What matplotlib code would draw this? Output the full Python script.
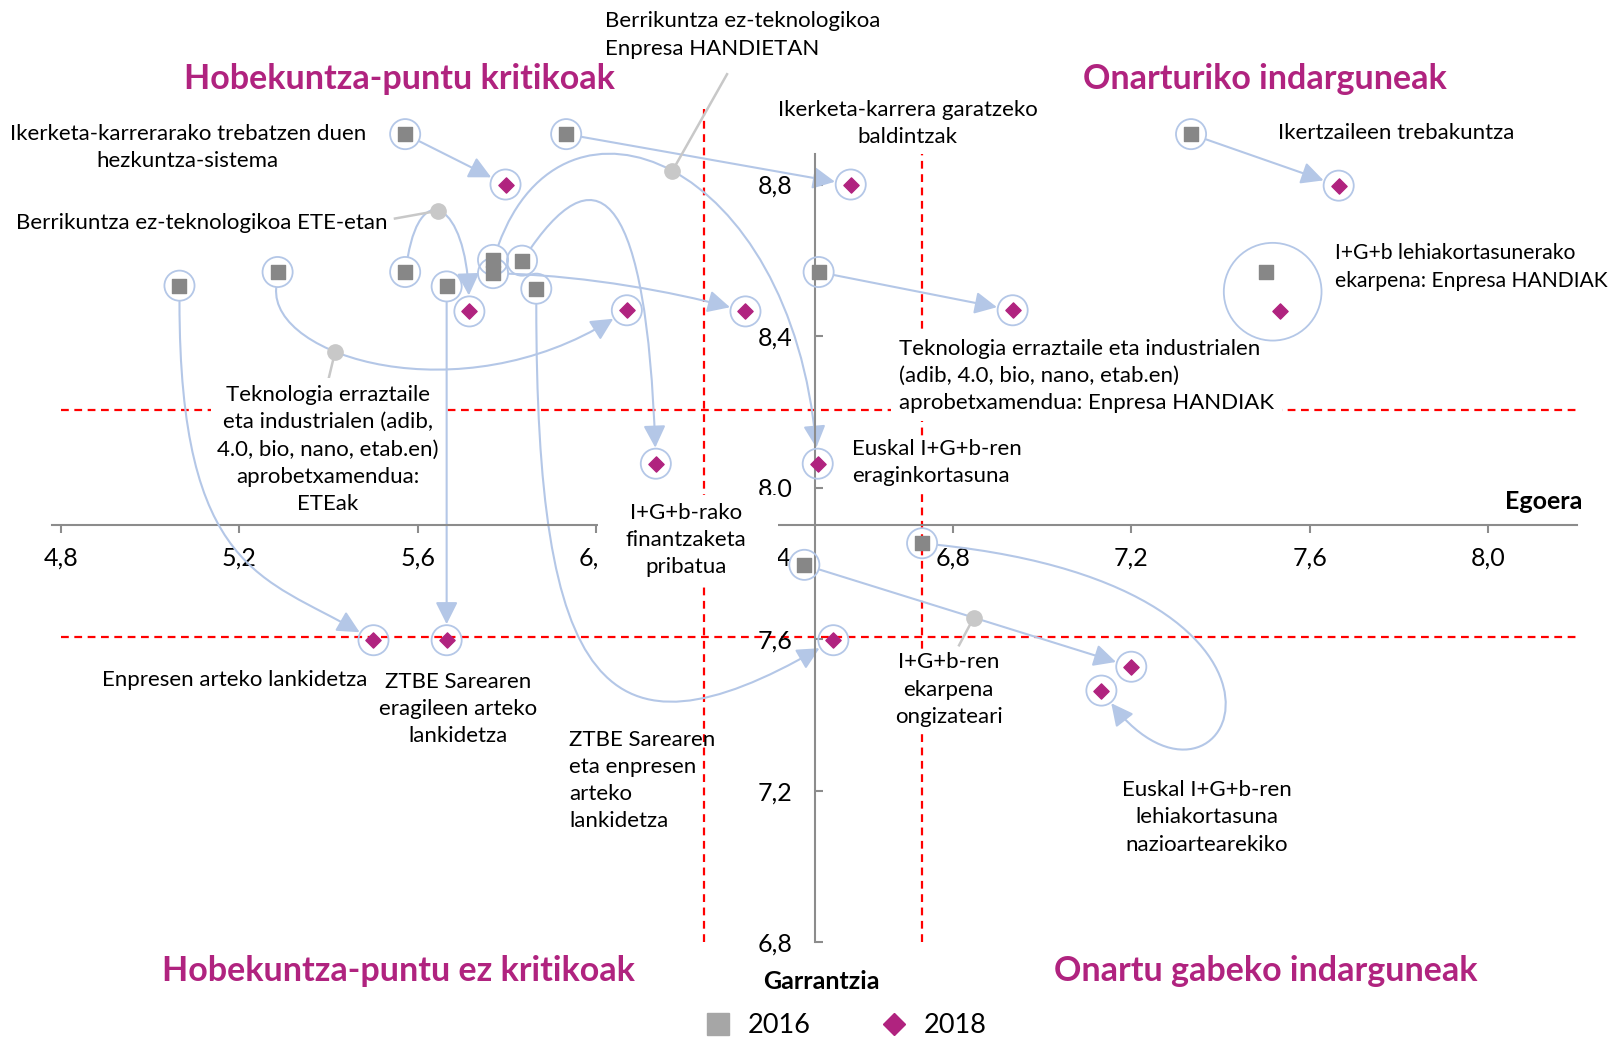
import numpy as np
import matplotlib.pyplot as plt
from matplotlib.path import Path
from matplotlib.patches import FancyArrowPatch, Rectangle
from matplotlib.transforms import IdentityTransform
from matplotlib.lines import Line2D

plt.rcParams['font.family'] = ['Lato', 'DejaVu Sans']

# --- data -------------------------------------------------------------
names = [
    'Ikerketa-karrerarako trebatzen duen\nhezkuntza-sistema',
    'Ikerketa-karrera garatzeko\nbaldintzak',
    'Ikertzaileen trebakuntza',
    'Enpresen arteko lankidetza',
    'Teknologia erraztaile\neta industrialen (adib,\n4.0, bio, nano, etab.en)\naprobetxamendua:\nETEak',
    'Berrikuntza ez-teknologikoa ETE-etan',
    'ZTBE Sarearen\neragileen arteko\nlankidetza',
    'Berrikuntza ez-teknologikoa\nEnpresa HANDIETAN',
    'Euskal I+G+b-ren\neraginkortasuna',
    'I+G+b-rako\nfinantzaketa\npribatua',
    'ZTBE Sarearen\neta enpresen\narteko\nlankidetza',
    'Teknologia erraztaile eta industrialen\n(adib, 4.0, bio, nano, etab.en)\naprobetxamendua: Enpresa HANDIAK',
    'I+G+b lehiakortasunerako\nekarpena: Enpresa HANDIAK',
    'I+G+b-ren\nekarpena\nongizateari',
    'Euskal I+G+b-ren\nlehiakortasuna\nnazioartearekiko',
]
x2016 = [5.572, 5.933, 7.334, 5.066, 5.286, 5.572, 5.665, 5.769, 5.769, 5.834, 5.866, 6.499, 7.501, 6.467, 6.731]
y2016 = [8.933, 8.933, 8.933, 8.533, 8.569, 8.569, 8.531, 8.601, 8.566, 8.599, 8.525, 8.569, 8.569, 7.796, 7.853]
x2018 = [5.797, 6.571, 7.665, 5.501, 6.069, 5.716, 5.665, 6.497, 6.335, 6.134, 6.532, 6.934, 7.533, 7.200, 7.133]
y2018 = [8.800, 8.800, 8.797, 7.597, 8.468, 8.465, 7.597, 8.063, 8.465, 8.063, 7.597, 8.468, 8.465, 7.527, 7.464]

xticks = [4.8, 5.2, 5.6, 6.0, 6.4, 6.8, 7.2, 7.6, 8.0]
xtick_labels = ['4,8', '5,2', '5,6', '6,0', '6,4', '6,8', '7,2', '7,6', '8,0']
yticks = [6.8, 7.2, 7.6, 8.0, 8.4, 8.8]
ytick_labels = ['6,8', '7,2', '7,6', '8.0', '8,4', '8,8']
x_cross, y_cross = 6.49, 7.9
x_cuts = [6.243, 6.731]
y_cuts = [8.204, 7.605]

quadrants = ['Hobekuntza-puntu kritikoak', 'Onarturiko indarguneak',
             'Hobekuntza-puntu ez kritikoak', 'Onartu gabeko indarguneak']

# --- layout / style ----------------------------------------------------
W, H = 1568, 1007          # layout grid (reference pixels)
magenta = '#b0237f'
sq_c = '#878787'
ring_c = '#b4c7e7'
dot_c = '#c8c8c8'
R = 16                     # ring radius in px

# routing of each connector: None = nothing, 'line' = straight,
# else (start angle, start arm, end angle, end arm) in px
routes = ['line', 'line', 'line',
          (-90, 270, -30, 110),
          (-95, 70, 32, 180),
          (80, 80, -88, 90),
          'line',
          (70, 190, -85, 290),
          (-2, 80, -15, 60),
          (55, 120, -88, 250),
          (-90, 380, 30, 250),
          'line',
          None,
          'line',
          (-6, 420, 128, 190)]
front = {3}                # connectors drawn above the label boxes

# label positions (px on layout grid) and alignment
label_pos = [(182, 143, 'center'), (880, 120, 'center'), (1239, 129, 'left'),
             (228, 660, 'center'), (318, 436, 'center'), (196, 216, 'center'),
             (444, 688, 'center'), (587, 34, 'left'), (826, 449, 'left'),
             (665, 524, 'center'), (552, 757, 'left'), (872, 365, 'left'),
             (1295, 259, 'left'), (920, 669, 'center'), (1170, 793, 'center')]
box_pad = {4: 0.3, 11: 0.35, 10: None, 9: None}
label_size = {12: 15.2}

# gray leader dots: connector index, bezier t, leader end (px)
leaders = [(7, 0.5, (705, 72)), (5, 0.45, (383, 212)),
           (4, 0.36, (319, 366)), (13, 0.52, (930, 626))]

fig = plt.figure(figsize=(16.17, 10.38), dpi=100)
ax = fig.add_axes([0, 0, 1, 1])
ax.set_xlim(4.6636, 8.2890)
ax.set_ylim(6.5469, 9.2871)


def frac(px, py):
    return px / W, 1 - py / H


def disp(px, py):
    return ax.transAxes.transform(frac(px, py))


# axes crossing in the middle
for s in ['top', 'right']:
    ax.spines[s].set_visible(False)
ax.spines['left'].set_position(('data', x_cross))
ax.spines['bottom'].set_position(('data', y_cross))
ax.spines['left'].set_bounds(6.8, 8.88)
ax.spines['bottom'].set_bounds(4.78, 8.2)
for s in ['left', 'bottom']:
    ax.spines[s].set_color('#8c8c8c')
    ax.spines[s].set_linewidth(1.5)
ax.set_xticks(xticks, xtick_labels)
ax.set_yticks(yticks, ytick_labels)
ax.tick_params(axis='x', direction='out', length=6, width=1.5, color='#8c8c8c', pad=9, labelsize=18)
ax.tick_params(axis='y', direction='in', length=6, width=1.5, color='#8c8c8c', pad=16, labelsize=18)

# red dashed threshold lines
red = dict(color='#ff0000', lw=1.6, ls=(0, (3.5, 2.5)), zorder=1.5)
ax.plot([x_cuts[0]] * 2, [6.8, 9.0], **red)
ax.plot([x_cuts[1]] * 2, [6.8, 8.88], **red)
for yc in y_cuts:
    ax.plot([4.8, 8.2], [yc, yc], **red)

# connectors
paths = {}
for i in range(len(x2016)):
    st = routes[i]
    if st is None:
        continue
    a = ax.transData.transform((x2016[i], y2016[i]))
    b = ax.transData.transform((x2018[i], y2018[i]))
    if st == 'line':
        u = (b - a) / np.hypot(*(b - a))
        s0 = a + u * R
        e0 = b - u * R
        c1 = s0 + (e0 - s0) / 3
        c2 = s0 + 2 * (e0 - s0) / 3
    else:
        angA, armA, angB, armB = st
        ua = np.array([np.cos(np.radians(angA)), np.sin(np.radians(angA))])
        ub = np.array([np.cos(np.radians(angB)), np.sin(np.radians(angB))])
        s0 = a + ua * R
        e0 = b - ub * R
        c1 = s0 + ua * armA
        c2 = e0 - ub * armB
    pts = np.array([s0, c1, c2, e0])
    paths[i] = pts
    ax.add_patch(FancyArrowPatch(
        path=Path(pts, [Path.MOVETO, Path.CURVE4, Path.CURVE4, Path.CURVE4]),
        arrowstyle='-|>,head_length=0.9,head_width=0.45', mutation_scale=15,
        color=ring_c, lw=1.5, transform=IdentityTransform(),
        zorder=5.5 if i in front else 2))

# gray leader dots
inv = ax.transData.inverted()
for i, t, end in leaders:
    P = paths[i]
    pt = ((1 - t) ** 3 * P[0] + 3 * (1 - t) ** 2 * t * P[1]
          + 3 * (1 - t) * t ** 2 * P[2] + t ** 3 * P[3])
    d = inv.transform(pt)
    e = inv.transform(disp(*end))
    ax.plot([d[0], e[0]], [d[1], e[1]], color=dot_c, lw=1.8, zorder=2.2)
    ax.plot(d[0], d[1], 'o', color=dot_c, ms=11, zorder=2.3)

# rings and markers
ring_idx = [i for i in range(len(x2016)) if routes[i] is not None]
rx = [x2016[i] for i in ring_idx] + [x2018[i] for i in ring_idx]
ry = [y2016[i] for i in ring_idx] + [y2018[i] for i in ring_idx]
ax.scatter(rx, ry, s=470, facecolors='none', edgecolors=ring_c, linewidths=1.3, zorder=3)
ax.scatter([(x2016[12] + x2018[12]) / 2], [(y2016[12] + y2018[12]) / 2], s=4950,
           facecolors='none', edgecolors=ring_c, linewidths=1.3, zorder=6)
ax.scatter(x2016, y2016, marker='s', s=112, color=sq_c, zorder=4)
ax.scatter(x2018, y2018, marker='D', s=60, color=magenta, zorder=4)

# white panel behind the financing label
x0, y0 = frac(580, 566)
x1, y1 = frac(754, 480)
ax.add_patch(Rectangle((x0, y0), x1 - x0, y1 - y0, transform=ax.transAxes,
                       facecolor='white', edgecolor='none', zorder=3.5))

# labels
for i, (px, py, ha) in enumerate(label_pos):
    pad = box_pad.get(i, 0.15)
    kw = {}
    if pad is not None:
        kw['bbox'] = dict(boxstyle=f'square,pad={pad}', fc='white', ec='none')
    ax.text(*frac(px, py), names[i], transform=ax.transAxes, ha=ha, va='center',
            multialignment=ha, fontsize=label_size.get(i, 16), linespacing=1.45,
            zorder=5, **kw)

# quadrant titles
for txt, (px, py) in zip(quadrants, [(387, 77), (1227, 77), (386, 942), (1227, 942)]):
    ax.text(*frac(px, py), txt, transform=ax.transAxes, ha='center', va='center',
            fontsize=24.5, fontweight='bold', color=magenta, zorder=5)

ax.text(*frac(1497, 487), 'Egoera', transform=ax.transAxes, ha='center', va='center',
        fontsize=18, fontweight='bold')
ax.text(*frac(796, 952), 'Garrantzia', transform=ax.transAxes, ha='center', va='center',
        fontsize=18, fontweight='bold')

handles = [Line2D([], [], marker='s', ls='', color='#a6a6a6', markersize=16),
           Line2D([], [], marker='D', ls='', color=magenta, markersize=11)]
ax.legend(handles, ['2016', '2018'], loc='center', bbox_to_anchor=frac(820, 995),
          ncol=2, frameon=False, fontsize=19.5, handlelength=1.0,
          handletextpad=0.6, columnspacing=2.6, borderpad=0)

fig.savefig('out.png', dpi=100)
